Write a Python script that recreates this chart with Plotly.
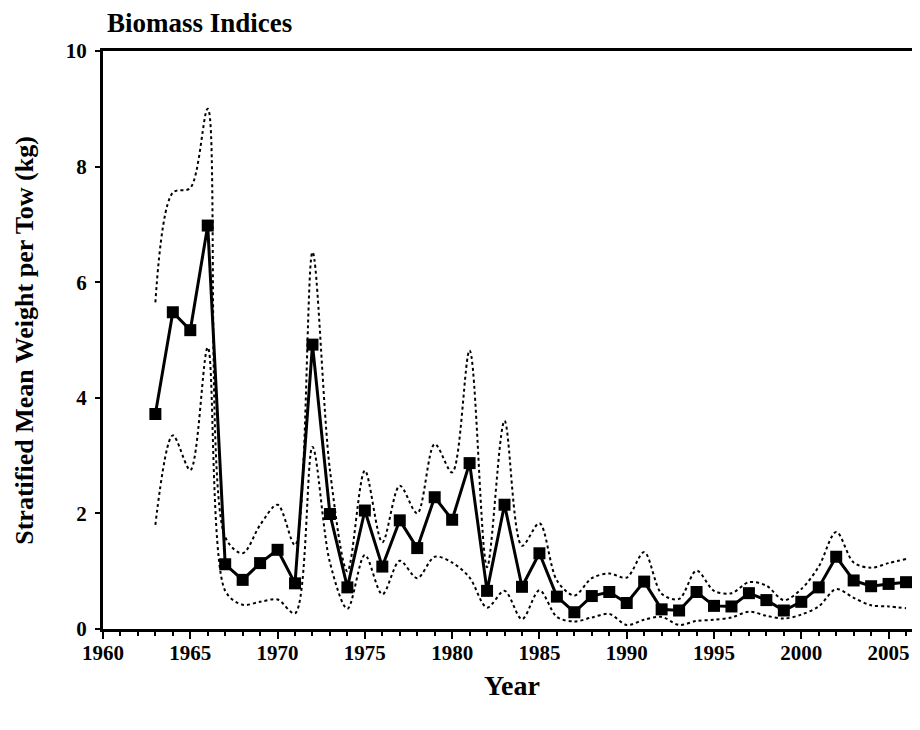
import plotly.graph_objects as go

years = list(range(1963, 2007))

mean_kg = [3.72, 5.48, 5.17, 6.98, 1.12, 0.85, 1.14, 1.37, 0.79, 4.92,
           1.99, 0.72, 2.05, 1.08, 1.88, 1.40, 2.28, 1.89, 2.87, 0.66,
           2.15, 0.73, 1.31, 0.56, 0.29, 0.57, 0.64, 0.45, 0.82, 0.34,
           0.32, 0.64, 0.40, 0.39, 0.62, 0.50, 0.32, 0.47, 0.72, 1.25,
           0.84, 0.74, 0.78, 0.81]

upper_kg = [5.65, 7.55, 7.63, 9.00, 1.59, 1.31, 1.80, 2.15, 1.45, 6.52,
            2.75, 1.00, 2.74, 1.50, 2.48, 2.00, 3.20, 2.71, 4.82, 1.07,
            3.60, 1.44, 1.83, 0.84, 0.58, 0.88, 0.96, 0.89, 1.33, 0.61,
            0.52, 1.01, 0.66, 0.62, 0.81, 0.75, 0.50, 0.69, 1.08, 1.68,
            1.15, 1.06, 1.14, 1.21]

lower_kg = [1.80, 3.35, 2.75, 4.87, 0.66, 0.42, 0.47, 0.51, 0.27, 3.15,
            1.15, 0.35, 1.28, 0.60, 1.18, 0.88, 1.25, 1.15, 0.89, 0.37,
            0.66, 0.17, 0.67, 0.21, 0.13, 0.20, 0.26, 0.07, 0.16, 0.21,
            0.07, 0.14, 0.16, 0.20, 0.30, 0.23, 0.18, 0.25, 0.39, 0.69,
            0.54, 0.41, 0.39, 0.36]

serif = "Liberation Serif, Times New Roman, serif"

fig = go.Figure()

# confidence bounds (smoothed dotted lines)
for bound in [upper_kg, lower_kg]:
    fig.add_trace(
        go.Scatter(
            x=years,
            y=bound,
            mode="lines",
            line=dict(color="black", width=2, dash="dot", shape="spline", smoothing=0.9),
            showlegend=False,
            hoverinfo="skip"
        )
    )

# stratified mean
fig.add_trace(
    go.Scatter(
        x=years,
        y=mean_kg,
        mode="lines+markers",
        line=dict(color="black", width=3),
        marker=dict(symbol="square", size=12, color="black"),
        showlegend=False
    )
)

fig.update_xaxes(
    range=[1960, 2006.8],
    tick0=1960,
    dtick=5,
    ticks="outside",
    ticklen=7,
    tickwidth=2,
    tickcolor="black",
    minor=dict(dtick=1, ticks="outside", ticklen=4, tickwidth=2, tickcolor="black"),
    showline=True,
    linewidth=3,
    linecolor="black",
    mirror=True,
    showgrid=False,
    zeroline=False,
    ticklabelstandoff=-4,
    tickfont=dict(family=serif, size=21, color="black", weight="bold")
)

fig.update_yaxes(
    range=[0, 10],
    dtick=2,
    ticks="outside",
    ticklen=5,
    tickwidth=2,
    tickcolor="black",
    showline=True,
    linewidth=3,
    linecolor="black",
    showgrid=False,
    zeroline=False,
    ticklabelstandoff=4,
    tickfont=dict(family=serif, size=21, color="black", weight="bold")
)

# axis titles placed as annotations (paper coords relative to the plot area)
fig.add_annotation(
    text="<b>Year</b>",
    xref="paper", yref="paper",
    x=0.5, y=-0.098,
    xanchor="center", yanchor="middle",
    showarrow=False,
    font=dict(family=serif, size=28, color="black")
)
fig.add_annotation(
    text="<b>Stratified Mean Weight per Tow (kg)</b>",
    xref="paper", yref="paper",
    x=-0.097, y=0.5,
    xanchor="center", yanchor="middle",
    textangle=-90,
    showarrow=False,
    font=dict(family=serif, size=26, color="black")
)

# page body adds a small margin, so the figure is a bit smaller than the window
fig.update_layout(
    width=912,
    height=722,
    margin=dict(l=95, r=0, t=43, b=101),
    plot_bgcolor="white",
    paper_bgcolor="white",
    title=dict(
        text="<b>Biomass Indices</b>",
        font=dict(family=serif, size=27, color="black"),
        x=99 / 912,
        xanchor="left",
        y=1 - 15 / 722,
        yanchor="middle"
    )
)

fig.write_html("out.html")
